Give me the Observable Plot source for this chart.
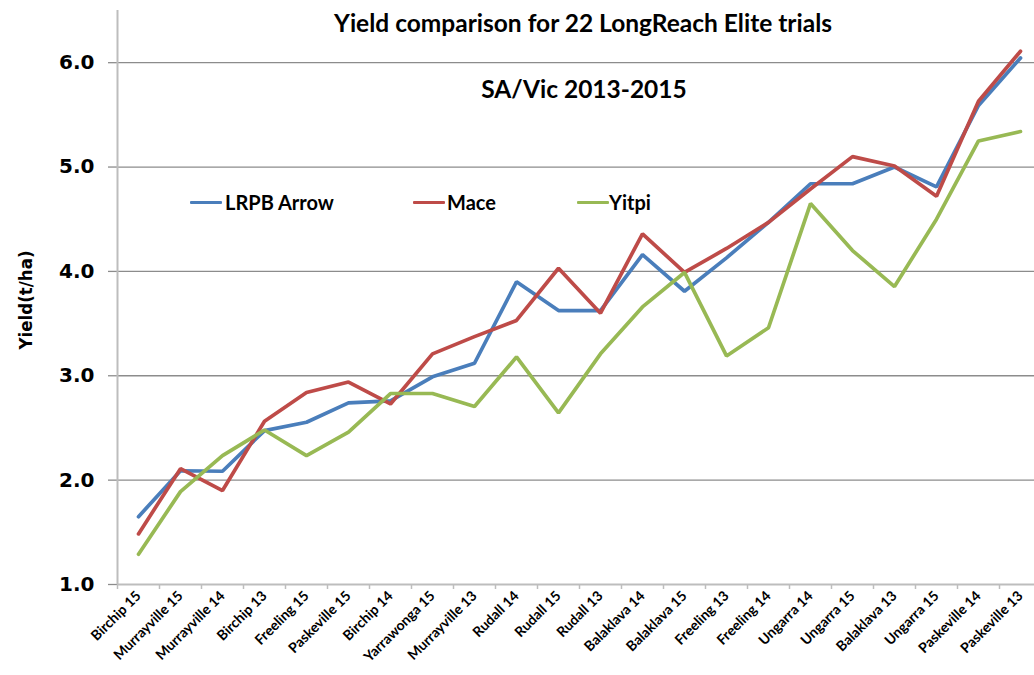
<!DOCTYPE html>
<html>
<head>
<meta charset="utf-8">
<script src="https://cdn.jsdelivr.net/npm/d3@7"></script>
<script src="https://cdn.jsdelivr.net/npm/@observablehq/plot@0.6"></script>
<style>
  html, body { margin: 0; padding: 0; background: #fff; }
  #wrap { position: relative; width: 1034px; height: 675px; overflow: hidden; }
  .ov { position: absolute; font-family: Lato, "Open Sans", sans-serif; font-weight: 700; color: #000; white-space: nowrap; }
  .title { font-size: 24.5px; transform: translate(-50%, -50%); }
  .leg-line { position: absolute; height: 3px; width: 32px; border-radius: 1px; }
  .leg-text { font-size: 20px; transform: translateY(-50%); }
  .ylab { font-family: "DejaVu Sans Condensed", "DejaVu Sans", sans-serif; font-size: 18.5px; transform: translate(-50%, -50%) rotate(-90deg); }
</style>
</head>
<body>
<div id="wrap"></div>
<script>
const categories = ["Birchip 15","Murrayville 15","Murrayville 14","Birchip 13","Freeling 15","Paskeville 15","Birchip 14","Yarrawonga 15","Murrayville 13","Rudall 14","Rudall 15","Rudall 13","Balaklava 14","Balaklava 15","Freeling 13","Freeling 14","Ungarra 14","Ungarra 15","Balaklava 13","Ungarra 15","Paskeville 14","Paskeville 13"];
const seriesNames = ["LRPB Arrow", "Mace", "Yitpi"];
const seriesColors = ["#4a7ebb", "#be4b48", "#98b954"];
const arrow = [1.65, 2.09, 2.085, 2.475, 2.555, 2.74, 2.76, 2.99, 3.12, 3.90, 3.625, 3.625, 4.16, 3.81, 4.13, 4.47, 4.84, 4.84, 5.00, 4.81, 5.59, 6.045];
const mace  = [1.485, 2.11, 1.90, 2.565, 2.84, 2.94, 2.73, 3.21, 3.375, 3.53, 4.03, 3.60, 4.36, 3.99, 4.22, 4.47, 4.79, 5.10, 5.01, 4.72, 5.63, 6.11];
const yitpi = [1.29, 1.89, 2.235, 2.48, 2.235, 2.46, 2.83, 2.83, 2.705, 3.18, 2.645, 3.21, 3.66, 3.99, 3.19, 3.46, 4.65, 4.20, 3.855, 4.50, 5.25, 5.34];
const yTicks = [1, 2, 3, 4, 5, 6];
const titleText = "Yield comparison for 22 LongReach Elite trials";
const subtitleText = "SA/Vic 2013-2015";
const yLabel = "Yield(t/ha)";

const values = [arrow, mace, yitpi];
const data = [];
seriesNames.forEach((s, k) => values[k].forEach((v, i) => data.push({series: s, i, v})));

const idx = d3.range(categories.length);
const bounds = d3.range(categories.length + 1).map(i => i - 0.5);

const chart = Plot.plot({
  width: 1034,
  height: 675,
  marginLeft: 117,
  marginRight: -7,
  marginTop: 10,
  marginBottom: 91,
  x: {type: "linear", domain: [-0.5, categories.length - 0.5], axis: null},
  y: {domain: [1, 6.5], axis: null},
  color: {domain: seriesNames, range: seriesColors},
  marks: [
    Plot.ruleY(yTicks.filter(d => d > 1), {stroke: "#8c8c8c", strokeWidth: 1.3}),
    Plot.axisY({ticks: yTicks, tickFormat: d => d.toFixed(1), tickSize: 9, tickPadding: 14,
      stroke: "#8c8c8c", strokeWidth: 1.3, fontSize: 20, fontWeight: "bold", fill: "#000",
      fontFamily: "DejaVu Sans, sans-serif", label: null}),
    Plot.ruleY([1], {stroke: "#bdbdbd", strokeWidth: 2}),
    Plot.ruleX([-0.5], {y1: 1, y2: 6.5, stroke: "#bdbdbd", strokeWidth: 2}),
    Plot.axisX({ticks: bounds, tickFormat: () => "", tickSize: 5, stroke: "#bdbdbd", strokeWidth: 1.5, label: null}),
    Plot.axisX({ticks: idx, tickFormat: i => categories[i], tickSize: 0, tickPadding: 9, tickRotate: -45,
      fontSize: 14, fontWeight: "bold", fill: "#000", fontFamily: "Lato, sans-serif", label: null}),
    Plot.line(data, {x: "i", y: "v", z: "series", stroke: "series", strokeWidth: 3.7, strokeLinejoin: "miter"})
  ]
});

const wrap = document.getElementById("wrap");
wrap.appendChild(chart);

function addDiv(cls, text, left, top, extra) {
  const d = document.createElement("div");
  d.className = "ov " + cls;
  d.textContent = text;
  d.style.left = left + "px";
  d.style.top = top + "px";
  if (extra) Object.assign(d.style, extra);
  wrap.appendChild(d);
  return d;
}
addDiv("title", titleText, 583, 22);
addDiv("title", subtitleText, 584, 88);
addDiv("ylab", yLabel, 25, 300);

const legendPos = [[190, 225], [413, 447], [577, 609]];
seriesNames.forEach((s, k) => {
  const l = document.createElement("div");
  l.className = "leg-line";
  l.style.left = legendPos[k][0] + "px";
  l.style.top = "201px";
  l.style.background = seriesColors[k];
  wrap.appendChild(l);
  addDiv("leg-text", s, legendPos[k][1], 202);
});
</script>
</body>
</html>
